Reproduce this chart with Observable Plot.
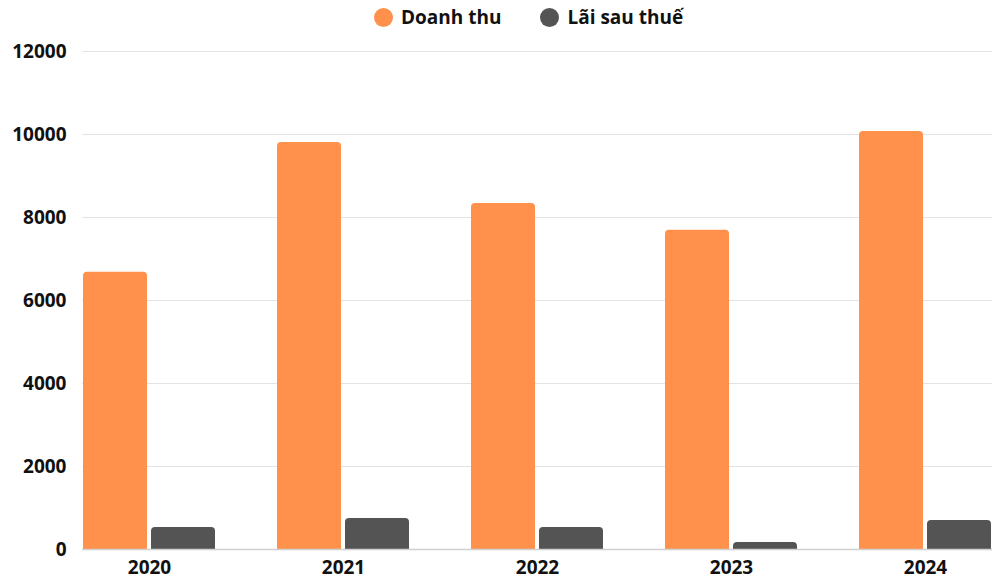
<!DOCTYPE html>
<html>
<head>
<meta charset="utf-8">
<script src="https://cdn.jsdelivr.net/npm/d3@7"></script>
<script src="https://cdn.jsdelivr.net/npm/@observablehq/plot@0.6"></script>
<style>
  body { margin: 0; background: #fff; font-family: "Open Sans", sans-serif; }
  #legend { height: 34px; display: flex; align-items: center; padding-left: 374px; font-weight: 700; font-size: 19px; color: #111; }
  .item { display: flex; align-items: center; margin-right: 39px; }
  .sw { width: 19px; height: 19px; border-radius: 50%; margin-right: 8px; }
  svg { display: block; }
</style>
</head>
<body>
<div id="legend"></div>
<div id="chart"></div>
<script>
const years = ["2020", "2021", "2022", "2023", "2024"];
const series = ["Doanh thu", "Lãi sau thuế"];
const revenue = [6680, 9810, 8340, 7690, 10070];
const profit = [530, 750, 530, 170, 700];
const colors = ["#FF914D", "#545454"];
const yTicks = [0, 2000, 4000, 6000, 8000, 10000, 12000];

const revData = years.map((y, i) => ({ year: y, series: series[0], value: revenue[i] }));
const proData = years.map((y, i) => ({ year: y, series: series[1], value: profit[i] }));

const legend = document.getElementById("legend");
series.forEach((s, i) => {
  const it = document.createElement("div");
  it.className = "item";
  it.innerHTML = `<span class="sw" style="background:${colors[i]}"></span><span>${s}</span>`;
  legend.appendChild(it);
});

const chart = Plot.plot({
  width: 1000,
  height: 548,
  marginLeft: 82,
  marginRight: 8,
  marginTop: 17,
  marginBottom: 33,
  style: { fontFamily: "Open Sans", fontWeight: 700, fontSize: "19px", color: "#111", background: "#fff" },
  x: { domain: years, paddingInner: 0.32, paddingOuter: 0, label: null },
  y: { domain: [0, 12000], label: null },
  color: { domain: series, range: colors },
  marks: [
    Plot.gridY(yTicks.filter(d => d > 0), { stroke: "#e3e3e3", strokeOpacity: 1, strokeWidth: 1 }),
    Plot.axisY(yTicks, { tickSize: 0, tickPadding: 16, tickFormat: d => String(d), label: null, fontWeight: 700 }),
    Plot.axisX({ tickSize: 0, tickPadding: 11, label: null, fontWeight: 700 }),
    Plot.barY(revData, { x: "year", y: "value", fill: "series", insetRight: 68, ry1: 4 }),
    Plot.barY(proData, { x: "year", y: "value", fill: "series", insetLeft: 68, ry1: 4 }),
    Plot.ruleY([0], { stroke: "#d0d0d0", strokeWidth: 1.5 })
  ]
});
document.getElementById("chart").appendChild(chart);
</script>
</body>
</html>
